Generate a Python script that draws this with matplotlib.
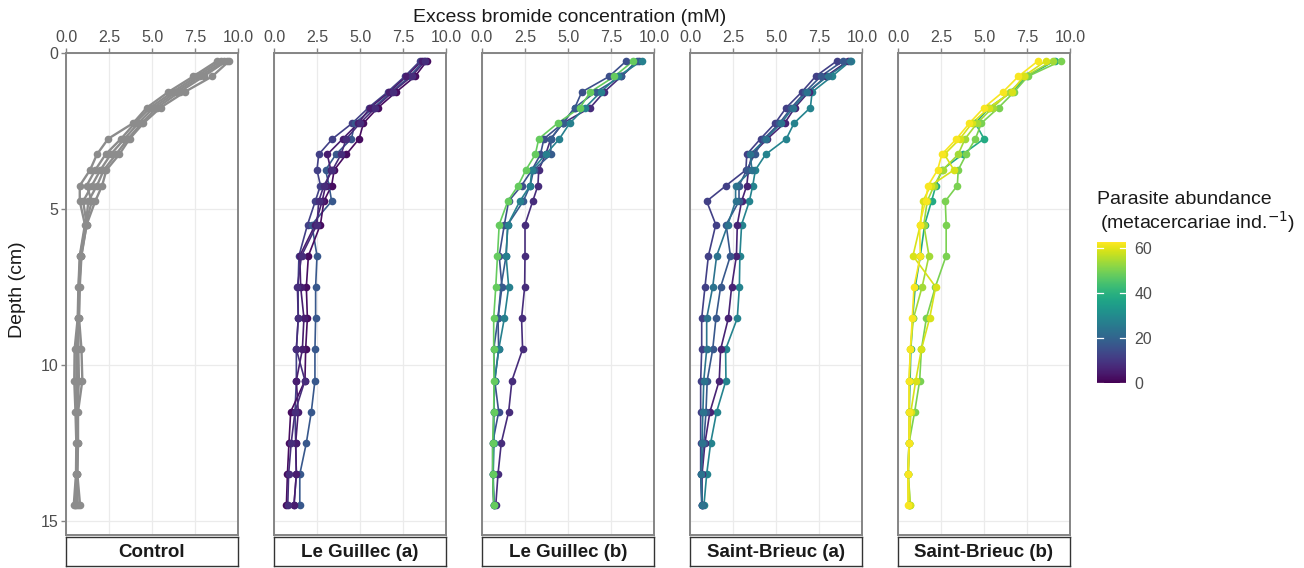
import numpy as np
import matplotlib
matplotlib.use("Agg")
import matplotlib.pyplot as plt
from matplotlib.colors import Normalize
from matplotlib.colorbar import ColorbarBase

plt.rcParams['font.family'] = ['Liberation Sans', 'DejaVu Sans']

# sampling depths (cm)
depth = [0.25, 0.75, 1.25, 1.75, 2.25, 2.75, 3.25, 3.75, 4.25, 4.75,
         5.5, 6.5, 7.5, 8.5, 9.5, 10.5, 11.5, 12.5, 13.5, 14.5]

# excess bromide (mM), one list per core
control_conc = [
    [8.8, 7.4, 5.95, 4.7, 3.9, 2.45, 1.8, 1.4, 0.8, 0.8, 1.1, 0.8, 0.72, 0.68, 0.5, 0.48, 0.55, 0.6, 0.58, 0.45],
    [9.0, 7.6, 6.2, 4.9, 4.0, 3.2, 2.3, 1.7, 1.2, 1.5, 1.15, 0.82, 0.74, 0.7, 0.6, 0.6, 0.6, 0.64, 0.6, 0.55],
    [9.2, 7.8, 6.4, 5.1, 4.2, 3.4, 2.6, 2.0, 1.5, 1.0, 1.2, 0.88, 0.76, 0.72, 0.66, 0.65, 0.63, 0.66, 0.62, 0.6],
    [9.35, 8.0, 6.6, 5.3, 4.4, 3.6, 2.9, 2.2, 1.8, 1.3, 1.15, 0.85, 0.78, 0.74, 0.72, 0.75, 0.66, 0.68, 0.65, 0.68],
    [9.5, 8.5, 6.9, 5.5, 4.5, 3.7, 3.1, 2.35, 2.1, 1.7, 1.2, 0.9, 0.8, 0.76, 0.9, 0.95, 0.7, 0.7, 0.66, 0.82],
]

lg_a_conc = [
    [8.5, 7.6, 6.6, 5.5, 4.55, 3.4, 2.6, 2.5, 2.7, 2.4, 1.95, 1.45, 1.4, 1.41, 1.3, 1.3, 1.22, 1.26, 1.3, 1.16],
    [8.7, 7.9, 6.8, 5.8, 4.7, 4.5, 3.6, 3.0, 3.2, 3.35, 2.2, 2.5, 2.42, 2.42, 2.38, 2.38, 2.17, 1.88, 1.5, 1.5],
    [8.9, 8.2, 7.1, 6.05, 5.2, 4.95, 4.2, 3.5, 3.35, 2.9, 2.7, 2.0, 1.88, 1.94, 1.84, 1.8, 0.97, 0.87, 0.78, 0.72],
    [8.6, 7.7, 6.7, 5.6, 4.9, 4.0, 3.1, 3.3, 3.0, 2.8, 2.4, 1.5, 1.55, 1.74, 1.65, 1.3, 1.41, 1.26, 1.3, 1.16],
    [8.8, 8.0, 6.9, 5.9, 5.0, 4.2, 3.9, 3.4, 2.9, 2.6, 2.5, 1.6, 1.36, 1.41, 1.3, 1.8, 1.22, 1.0, 0.85, 0.8],
]
lg_a_abund = [12, 17, 2, 5, 8]

lg_b_conc = [
    [9.1, 8.1, 7.1, 6.3, 4.7, 4.0, 3.7, 3.3, 3.25, 2.95, 2.5, 2.5, 2.48, 2.3, 2.36, 1.74, 1.55, 1.12, 0.93, 0.8],
    [8.4, 7.4, 5.8, 5.4, 4.7, 3.6, 3.4, 2.9, 2.3, 1.55, 1.3, 1.0, 1.16, 0.93, 0.97, 0.74, 0.97, 0.62, 0.62, 0.68],
    [9.0, 8.1, 6.6, 5.4, 4.7, 4.0, 4.0, 3.0, 2.8, 2.4, 1.5, 1.4, 1.1, 0.93, 0.68, 0.74, 0.68, 0.65, 0.62, 0.7],
    [9.3, 7.9, 6.9, 6.0, 5.1, 4.5, 3.7, 2.9, 2.8, 2.2, 1.5, 1.4, 1.55, 1.3, 0.97, 0.74, 0.68, 0.7, 0.65, 0.7],
    [8.8, 7.7, 6.3, 5.7, 4.4, 3.3, 3.1, 2.55, 2.1, 1.5, 1.0, 0.9, 0.8, 0.68, 0.68, 0.7, 0.68, 0.62, 0.62, 0.68],
]
lg_b_abund = [8, 15, 18, 27, 48]

sb_a_conc = [
    [9.35, 8.25, 7.1, 7.0, 6.05, 5.6, 4.4, 3.8, 3.65, 3.45, 3.0, 2.9, 2.87, 2.75, 2.07, 2.09, 1.55, 1.2, 0.97, 0.81],
    [8.55, 7.3, 6.5, 5.6, 4.95, 4.1, 3.3, 3.25, 2.1, 0.97, 1.5, 1.07, 0.87, 0.68, 0.68, 0.62, 0.62, 0.62, 0.62, 0.68],
    [9.2, 7.9, 6.9, 6.1, 5.5, 4.5, 3.6, 3.4, 3.3, 3.0, 2.75, 2.7, 2.42, 2.23, 1.78, 1.7, 1.16, 0.87, 0.7, 0.7],
    [8.9, 7.6, 6.7, 5.9, 5.2, 4.3, 3.75, 3.3, 2.85, 2.85, 2.1, 2.35, 1.78, 1.51, 1.32, 1.0, 0.93, 0.8, 0.65, 0.7],
    [9.3, 8.0, 6.8, 6.0, 5.3, 4.4, 3.5, 3.6, 2.65, 2.65, 2.2, 1.55, 1.32, 0.97, 0.97, 0.8, 0.75, 0.7, 0.65, 0.7],
]
sb_a_abund = [28, 12, 6, 17, 24]

sb_b_conc = [
    [9.1, 7.5, 6.6, 5.3, 4.5, 5.0, 3.75, 2.55, 2.2, 1.95, 1.55, 1.3, 1.0, 0.85, 0.75, 0.7, 0.65, 0.64, 0.58, 0.62],
    [9.5, 7.55, 6.75, 5.85, 4.85, 4.5, 3.97, 3.5, 3.45, 2.75, 2.8, 2.8, 2.17, 1.65, 1.36, 1.26, 0.97, 0.64, 0.6, 0.72],
    [9.0, 7.4, 6.5, 5.5, 4.6, 3.9, 3.5, 2.6, 2.1, 1.7, 1.5, 1.8, 1.4, 0.9, 0.72, 0.65, 0.66, 0.64, 0.58, 0.62],
    [8.6, 7.3, 6.6, 5.3, 4.3, 3.6, 2.7, 3.25, 1.9, 1.45, 1.3, 0.87, 2.19, 1.84, 1.36, 1.03, 0.75, 0.66, 0.6, 0.7],
    [8.15, 7.0, 6.1, 5.0, 4.15, 3.4, 2.55, 2.3, 1.75, 1.6, 1.25, 1.3, 0.93, 0.83, 0.72, 0.64, 0.64, 0.64, 0.58, 0.58],
]
sb_b_abund = [38, 50, 54, 59, 62]

sites = ['Control', 'Le Guillec (a)', 'Le Guillec (b)', 'Saint-Brieuc (a)', 'Saint-Brieuc (b)']
site_conc = [control_conc, lg_a_conc, lg_b_conc, sb_a_conc, sb_b_conc]
site_abund = [None, lg_a_abund, lg_b_abund, sb_a_abund, sb_b_abund]

W, H = 1304, 568
fig = plt.figure(figsize=(W / 100, H / 100), dpi=100)

cmap = plt.get_cmap('viridis')
norm = Normalize(0, 62.7)
tick_grey = '#4d4d4d'
border = '#858585'


def fig_rect(x0, y0, x1, y1):
    # pixel box (top-left origin) -> figure fraction
    return [x0 / W, 1 - y1 / H, (x1 - x0) / W, (y1 - y0) / H]


panel_left = [66, 274, 482, 690, 898]
for i, name in enumerate(sites):
    x0 = panel_left[i]
    ax = fig.add_axes(fig_rect(x0, 53, x0 + 172, 535))
    ax.set_xlim(0, 10)
    ax.set_ylim(15.45, 0)
    ax.set_xticks([0, 2.5, 5, 7.5, 10])
    ax.set_xticklabels(['0.0', '2.5', '5.0', '7.5', '10.0'])
    ax.set_yticks([0, 5, 10, 15])
    ax.xaxis.tick_top()
    ax.grid(True, color='#ebebeb', linewidth=0.9)
    ax.set_axisbelow(True)
    ax.tick_params(axis='both', colors=border, labelcolor=tick_grey, labelsize=11.5,
                   length=3.5, width=1.0, pad=2)
    if i > 0:
        ax.tick_params(axis='y', left=False, labelleft=False)
    for s in ax.spines.values():
        s.set_color(border)
        s.set_linewidth(1.4)

    profiles = site_conc[i]
    abund = site_abund[i]
    for k, prof in enumerate(profiles):
        col = '#8c8c8c' if abund is None else cmap(norm(abund[k]))
        lw = 1.7 if abund is None else 1.2
        ax.plot(prof, depth, color=col, linewidth=lw, zorder=2)
    for k, prof in enumerate(profiles):
        col = '#8c8c8c' if abund is None else cmap(norm(abund[k]))
        ax.plot(prof, depth, linestyle='none', marker='o', markersize=5.5,
                markeredgewidth=0, color=col, zorder=3)

    # facet strip underneath
    sax = fig.add_axes(fig_rect(x0, 537, x0 + 172, 566))
    sax.set_xticks([])
    sax.set_yticks([])
    for s in sax.spines.values():
        s.set_color('#333333')
        s.set_linewidth(1.0)
    sax.text(0.5, 0.47, name, ha='center', va='center', fontsize=13.5,
             fontweight='bold', color='#1a1a1a', transform=sax.transAxes)

fig.text(570 / W, 1 - 17 / H, 'Excess bromide concentration (mM)', ha='center',
         va='center', fontsize=14, color='#1a1a1a')
fig.text(18 / W, 1 - 290 / H, 'Depth (cm)', ha='center', va='center',
         rotation=90, fontsize=14, color='#1a1a1a')

# colour bar legend
cax = fig.add_axes(fig_rect(1097, 242, 1126, 383))
cb = ColorbarBase(cax, cmap=cmap, norm=norm, orientation='vertical')
cb.outline.set_visible(False)
cb.set_ticks([0, 20, 40, 60])
cax.tick_params(length=0, labelsize=11.5, labelcolor=tick_grey, pad=6)
for v in [0, 20, 40, 60]:
    cax.plot([0, 0.2], [v, v], color='white', linewidth=0.9, transform=cax.get_yaxis_transform())
    cax.plot([0.8, 1.0], [v, v], color='white', linewidth=0.9, transform=cax.get_yaxis_transform())
fig.text(1097 / W, 1 - 200 / H, 'Parasite abundance', ha='left', va='center',
         fontsize=14, color='#1a1a1a')
fig.text(1100 / W, 1 - 222 / H, '(metacercariae ind.$^{-1}$)', ha='left', va='center',
         fontsize=14, color='#1a1a1a')

fig.savefig('out.png', dpi=100)
